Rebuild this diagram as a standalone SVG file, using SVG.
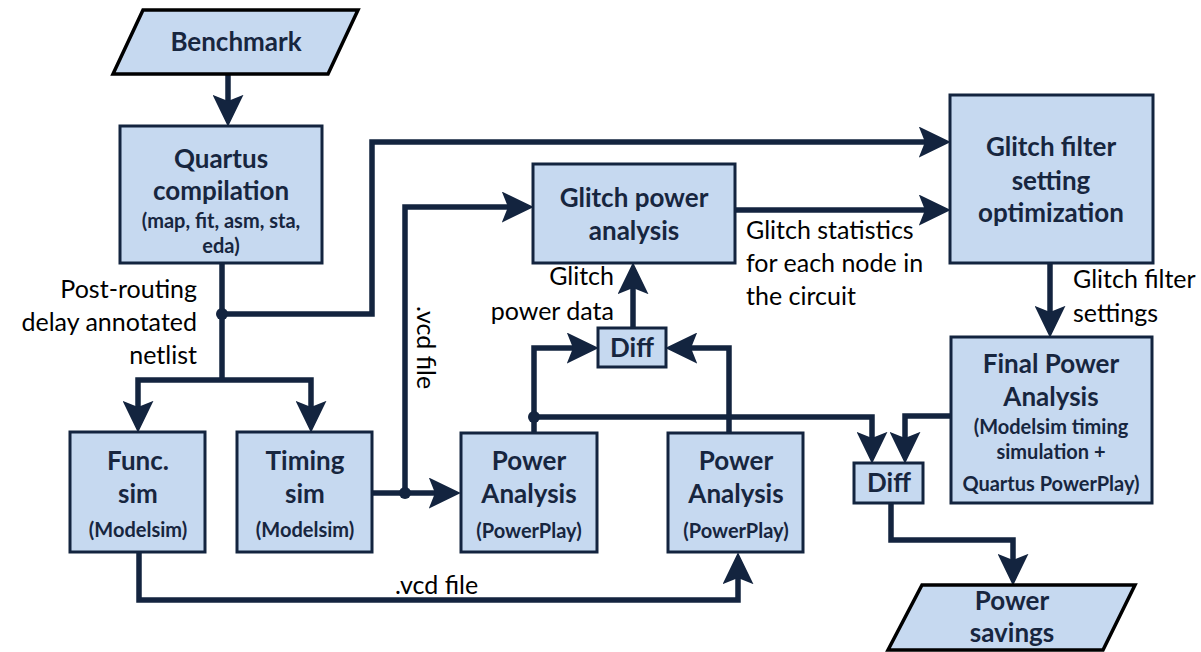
<svg xmlns="http://www.w3.org/2000/svg" width="1201" height="652" viewBox="0 0 1201 652">
<style>
.box{fill:#c6d9f0;stroke:#13243f;stroke-width:3}
.io{fill:#c6d9f0;stroke:#000;stroke-width:3.5}
.t{font-family:Lato,"Liberation Sans",sans-serif;font-weight:bold;font-size:26px;fill:#17263f;text-anchor:middle}
.s{font-family:Lato,"Liberation Sans",sans-serif;font-weight:bold;font-size:20px;fill:#17263f;text-anchor:middle}
.l{font-family:Lato,"Liberation Sans",sans-serif;font-size:25px;fill:#000}
.c{fill:none;stroke:#13243f;stroke-width:5.5;stroke-linejoin:miter}
.a{marker-end:url(#ah)}
.dot{fill:#13243f}
</style>
<defs>
<marker id="ah" markerUnits="userSpaceOnUse" markerWidth="32" markerHeight="31" refX="6" refY="15" orient="auto" viewBox="0 0 31 30">
<path d="M0,0 L31,15 L0,30 L6,15 z" fill="#13243f"/>
</marker>
</defs>
<g id="connectors">
<path class="c a" d="M228,74 V101"/>
<path class="c a" d="M222,263 V314 H372 V142 H925"/>
<path class="c" d="M222,314 V380"/>
<path class="c a" d="M140,380 H311 V407"/>
<path class="c a" d="M140,380 H138 V407"/>
<path class="c a" d="M372,493 H435"/>
<path class="c a" d="M405,493 V207 H508"/>
<path class="c a" d="M735,210 H925"/>
<path class="c a" d="M1050,263 V312"/>
<path class="c a" d="M139,552 V600 H738 V578"/>
<path class="c a" d="M534,433 V348 H573"/>
<path class="c a" d="M534,417 H872 V438"/>
<path class="c a" d="M729,433 V348 H691"/>
<path class="c a" d="M633,328 V288"/>
<path class="c a" d="M951,416 H905 V438"/>
<path class="c a" d="M891,503 V540 H1013 V560"/>
<circle class="dot" cx="222" cy="314" r="6"/>
<circle class="dot" cx="405" cy="493" r="6"/>
<circle class="dot" cx="534" cy="417" r="6"/>
<text class="l" x="197" y="298" text-anchor="end">Post-routing</text>
<text class="l" x="197" y="331" text-anchor="end">delay annotated</text>
<text class="l" x="197" y="364" text-anchor="end">netlist</text>
<text class="l" transform="translate(417,306) rotate(90)">.vcd file</text>
<text class="l" x="395" y="594">.vcd file</text>
<text class="l" x="614" y="285" text-anchor="end">Glitch</text>
<text class="l" x="614" y="320" text-anchor="end">power data</text>
<text class="l" x="746" y="239">Glitch statistics</text>
<text class="l" x="746" y="272">for each node in</text>
<text class="l" x="746" y="305">the circuit</text>
<text class="l" x="1073" y="288">Glitch filter</text>
<text class="l" x="1073" y="322">settings</text>
</g>
<g id="benchmark">
<polygon class="io" points="143,10 358,10 328,74 113,74"/>
<text class="t" x="236" y="51">Benchmark</text>
</g>
<g id="quartus">
<rect class="box" x="120" y="126" width="202" height="137"/>
<text class="t" x="221" y="168">Quartus</text>
<text class="t" x="221" y="200">compilation</text>
<text class="s" x="221" y="228">(map, fit, asm, sta,</text>
<text class="s" x="221" y="253">eda)</text>
</g>
<g id="glitch-power">
<rect class="box" x="533" y="164" width="202" height="99"/>
<text class="t" x="634" y="207">Glitch power</text>
<text class="t" x="634" y="240">analysis</text>
</g>
<g id="glitch-filter">
<rect class="box" x="950" y="95" width="203" height="168"/>
<text class="t" x="1051" y="156">Glitch filter</text>
<text class="t" x="1051" y="190">setting</text>
<text class="t" x="1051" y="222">optimization</text>
</g>
<g id="final-power">
<rect class="box" x="951" y="337" width="201" height="166"/>
<text class="t" x="1051" y="373">Final Power</text>
<text class="t" x="1051" y="406">Analysis</text>
<text class="s" x="1051" y="434">(Modelsim timing</text>
<text class="s" x="1051" y="459">simulation +</text>
<text class="s" x="1051" y="491">Quartus PowerPlay)</text>
</g>
<g id="func-sim">
<rect class="box" x="70" y="432" width="135" height="120"/>
<text class="t" x="138" y="470">Func.</text>
<text class="t" x="138" y="503">sim</text>
<text class="s" x="138" y="537">(Modelsim)</text>
</g>
<g id="timing-sim">
<rect class="box" x="237" y="432" width="135" height="120"/>
<text class="t" x="305" y="470">Timing</text>
<text class="t" x="305" y="503">sim</text>
<text class="s" x="305" y="537">(Modelsim)</text>
</g>
<g id="power-analysis-1">
<rect class="box" x="461" y="433" width="136" height="119"/>
<text class="t" x="529" y="470">Power</text>
<text class="t" x="529" y="503">Analysis</text>
<text class="s" x="529" y="538">(PowerPlay)</text>
</g>
<g id="power-analysis-2">
<rect class="box" x="668" y="433" width="135" height="119"/>
<text class="t" x="736" y="470">Power</text>
<text class="t" x="736" y="503">Analysis</text>
<text class="s" x="736" y="538">(PowerPlay)</text>
</g>
<g id="diff-1">
<rect class="box" x="598" y="328" width="68" height="39"/>
<text class="t" x="632" y="357">Diff</text>
</g>
<g id="diff-2">
<rect class="box" x="854" y="463" width="69" height="40"/>
<text class="t" x="889" y="492">Diff</text>
</g>
<g id="power-savings">
<polygon class="io" points="922,585 1135,585 1103,650 888,650"/>
<text class="t" x="1012" y="610">Power</text>
<text class="t" x="1012" y="642">savings</text>
</g>
</svg>
